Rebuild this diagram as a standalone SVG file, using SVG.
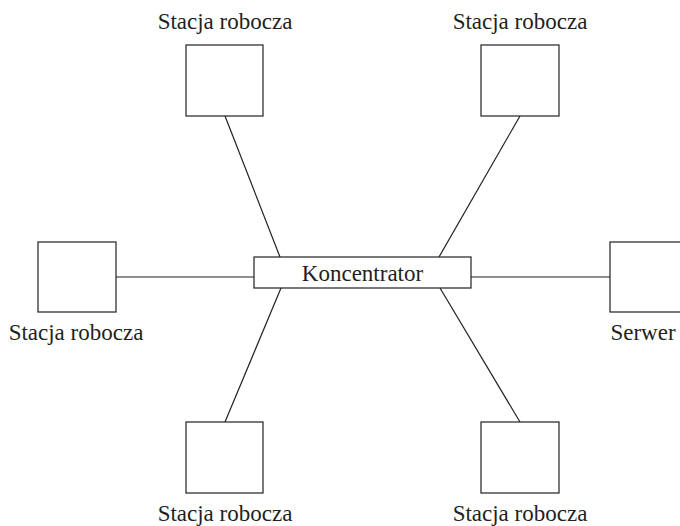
<svg xmlns="http://www.w3.org/2000/svg" width="680" height="526" viewBox="0 0 680 526">
  <style>
    .box { fill: #ffffff; stroke: #231f20; stroke-width: 1.2; }
    .link { stroke: #231f20; stroke-width: 1.2; fill: none; }
    .label { font-family: "Liberation Serif", "Times New Roman", serif; font-size: 23px; fill: #231f20; text-anchor: middle; }
  </style>
  <rect x="0" y="0" width="680" height="526" fill="#ffffff"/>

  <!-- links from the hub to each machine -->
  <g id="connectors">
    <line class="link" x1="225" y1="116" x2="280" y2="257"/>
    <line class="link" x1="520" y1="116" x2="439" y2="257"/>
    <line class="link" x1="116" y1="277" x2="254" y2="277"/>
    <line class="link" x1="471" y1="277" x2="610" y2="277"/>
    <line class="link" x1="281" y1="288" x2="225" y2="422"/>
    <line class="link" x1="440" y1="288" x2="520" y2="422"/>
  </g>

  <g id="hub">
    <rect class="box" x="254" y="257" width="217" height="31"/>
    <text class="label" x="362.5" y="280.5">Koncentrator</text>
  </g>

  <g id="ws-top-left">
    <rect class="box" x="186" y="45" width="77" height="71"/>
    <text class="label" x="225" y="29">Stacja robocza</text>
  </g>

  <g id="ws-top-right">
    <rect class="box" x="481" y="45" width="78" height="71"/>
    <text class="label" x="520" y="29">Stacja robocza</text>
  </g>

  <g id="ws-left">
    <rect class="box" x="38" y="242" width="78" height="70"/>
    <text class="label" x="76" y="340">Stacja robocza</text>
  </g>

  <g id="server">
    <rect class="box" x="610" y="242" width="80" height="70"/>
    <text class="label" x="643" y="340">Serwer</text>
  </g>

  <g id="ws-bottom-left">
    <rect class="box" x="186" y="422" width="77" height="71"/>
    <text class="label" x="225" y="521">Stacja robocza</text>
  </g>

  <g id="ws-bottom-right">
    <rect class="box" x="481" y="422" width="78" height="71"/>
    <text class="label" x="520" y="521">Stacja robocza</text>
  </g>
</svg>
